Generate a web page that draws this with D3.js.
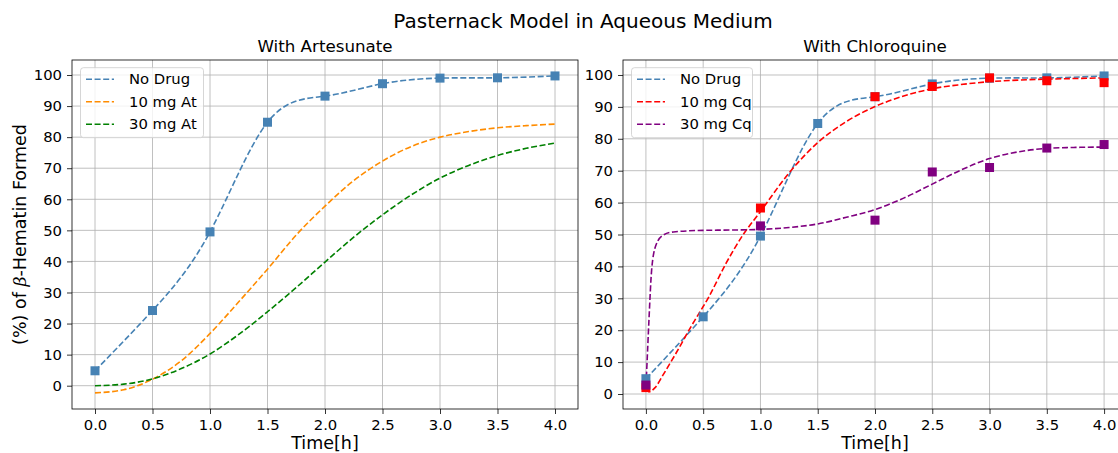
<!DOCTYPE html>
<html>
<head>
<meta charset="utf-8">
<script src="https://cdn.jsdelivr.net/npm/d3@7"></script>
<style>
  body { margin: 0; background: #fff; }
  svg { display: block; font-family: "DejaVu Sans", sans-serif; }
</style>
</head>
<body>
<svg id="chart" width="1118" height="453"></svg>
<script>
// measured time points (h)
var timePoints = [0, 0.5, 1.0, 1.5, 2.0, 2.5, 3.0, 3.5, 4.0];
var noDrug = [4.8, 24.2, 49.5, 84.8, 93.2, 97.2, 99.0, 99.1, 99.7];

// fitted curves, left panel
var fitX = [0, 0.25, 0.5, 0.75, 1.0, 1.25, 1.5, 1.75, 2.0, 2.25, 2.5, 2.75, 3.0, 3.25, 3.5, 3.75, 4.0];
var at10 = [-2.3, -1.3, 2.1, 8.0, 16.8, 27.0, 37.5, 48.5, 57.8, 66.0, 72.3, 77.0, 80.0, 81.8, 83.0, 83.7, 84.2];
var at30 = [0, 0.5, 2.2, 5.5, 10.2, 16.5, 23.8, 31.6, 39.8, 47.8, 55.0, 61.4, 66.8, 70.9, 74.1, 76.4, 78.1];

// right panel
var cqTime = [0, 1.0, 2.0, 2.5, 3.0, 3.5, 4.0];
var cq10 = [2.0, 58.3, 93.2, 96.4, 99.1, 98.2, 97.6];
var cq30 = [2.8, 52.7, 54.5, 69.6, 71.0, 77.1, 78.2];

var cq10FitX = [0, 0.03, 0.08, 0.15, 0.25, 0.4, 0.55, 0.7, 0.85, 1.0, 1.25, 1.5, 1.75, 2.0, 2.25, 2.5, 2.75, 3.0, 3.25, 3.5, 3.75, 4.0];
var cq10Fit = [1.8, 0.7, 2.0, 6.0, 12.0, 21.5, 30.5, 41.0, 50.0, 57.2, 69.3, 78.8, 85.4, 90.1, 93.4, 95.7, 97.0, 97.9, 98.4, 98.7, 98.9, 99.1];
var cq30FitX = [0, 0.005, 0.015, 0.027, 0.05, 0.088, 0.15, 0.24, 0.5, 0.75, 1.0, 1.25, 1.5, 1.75, 2.0, 2.25, 2.5, 2.75, 3.0, 3.25, 3.5, 3.75, 4.0];
var cq30Fit = [2.5, 6.0, 14.0, 23.5, 38.9, 46.7, 49.8, 50.8, 51.3, 51.4, 51.6, 52.2, 53.3, 55.4, 57.8, 61.4, 65.8, 70.2, 73.8, 75.9, 77.0, 77.3, 77.4];

var xTicks = [0, 0.5, 1.0, 1.5, 2.0, 2.5, 3.0, 3.5, 4.0];
var yTicks = [0, 10, 20, 30, 40, 50, 60, 70, 80, 90, 100];

var svg = d3.select("#chart");
var plotTop = 60, plotBottom = 409;
var dash = "6,2.6";

function drawPanel(opts) {
    var x = d3.scaleLinear().domain([-0.2, 4.2]).range([opts.left, opts.right]);
    var y = d3.scaleLinear().domain(opts.yDomain).range([plotBottom, plotTop]);
    var g = svg.append("g");

    // grid
    g.selectAll(".vg").data(xTicks).enter().append("line")
        .attr("x1", d => x(d)).attr("x2", d => x(d))
        .attr("y1", plotTop).attr("y2", plotBottom)
        .attr("stroke", "#b0b0b0").attr("stroke-width", 0.8);
    g.selectAll(".hg").data(yTicks).enter().append("line")
        .attr("x1", opts.left).attr("x2", opts.right)
        .attr("y1", d => y(d)).attr("y2", d => y(d))
        .attr("stroke", "#b0b0b0").attr("stroke-width", 0.8);

    // axes
    var xAxis = d3.axisBottom(x).tickValues(xTicks).tickFormat(d3.format(".1f")).tickSize(5).tickPadding(5);
    var gx = g.append("g").attr("transform", "translate(0," + plotBottom + ")").call(xAxis);
    var yAxis = d3.axisLeft(y).tickValues(yTicks).tickSize(5).tickPadding(5);
    var gy = g.append("g").attr("transform", "translate(" + opts.left + ",0)").call(yAxis);
    [gx, gy].forEach(function (a) {
        a.select(".domain").remove();
        a.selectAll("text").attr("font-size", 14.8).attr("fill", "#000").attr("font-family", "DejaVu Sans");
        a.selectAll("line").attr("stroke", "#000").attr("stroke-width", 0.8);
    });

    // lines
    var clip = "clip" + opts.id;
    svg.append("clipPath").attr("id", clip).append("rect")
        .attr("x", opts.left).attr("y", plotTop).attr("width", opts.right - opts.left).attr("height", plotBottom - plotTop);
    var plot = g.append("g").attr("clip-path", "url(#" + clip + ")");

    opts.series.forEach(function (s) {
        var pts = s.xs.map((v, i) => [v, s.ys[i]]);
        plot.append("path")
            .attr("d", d3.line().x(d => x(d[0])).y(d => y(d[1])).curve(s.curve)(pts))
            .attr("fill", "none").attr("stroke", s.color).attr("stroke-width", 1.6)
            .attr("stroke-dasharray", dash);
    });
    opts.markers.forEach(function (m) {
        plot.selectAll(null).data(m.xs.map((v, i) => [v, m.ys[i]])).enter().append("rect")
            .attr("x", d => x(d[0]) - 4.5).attr("y", d => y(d[1]) - 4.5)
            .attr("width", 9).attr("height", 9).attr("fill", m.color);
    });

    // frame
    g.append("rect").attr("x", opts.left).attr("y", plotTop)
        .attr("width", opts.right - opts.left).attr("height", plotBottom - plotTop)
        .attr("fill", "none").attr("stroke", "#000").attr("stroke-width", 0.8);

    // title and x label
    var cx = (opts.left + opts.right) / 2;
    g.append("text").attr("x", cx).attr("y", 52).attr("text-anchor", "middle")
        .attr("font-size", 16.7).text(opts.title);
    g.append("text").attr("x", cx).attr("y", 449).attr("text-anchor", "middle")
        .attr("font-size", 17.5).text("Time[h]");

    // legend
    var lx = opts.left + 8.5, ly = 67.7;
    var leg = g.append("g");
    leg.append("rect").attr("x", lx).attr("y", ly).attr("width", opts.legendWidth).attr("height", 70)
        .attr("rx", 3).attr("fill", "#fff").attr("fill-opacity", 0.8)
        .attr("stroke", "#cccccc").attr("stroke-width", 0.8);
    opts.series.forEach(function (s, i) {
        var yy = 79.3 + i * 22.5;
        leg.append("line").attr("x1", lx + 5.5).attr("x2", lx + 33.5).attr("y1", yy).attr("y2", yy)
            .attr("stroke", s.color).attr("stroke-width", 1.6).attr("stroke-dasharray", dash);
        leg.append("text").attr("x", lx + 48.5).attr("y", yy).attr("dy", "0.35em")
            .attr("font-size", 14.8).text(s.name);
    });
}

drawPanel({
    id: "L", left: 72, right: 578, yDomain: [-7.5, 104.83],
    title: "With Artesunate", legendWidth: 123,
    series: [
        { name: "No Drug", color: "steelblue", xs: timePoints, ys: noDrug, curve: d3.curveNatural },
        { name: "10 mg At", color: "darkorange", xs: fitX, ys: at10, curve: d3.curveMonotoneX },
        { name: "30 mg At", color: "green", xs: fitX, ys: at30, curve: d3.curveMonotoneX }
    ],
    markers: [{ color: "steelblue", xs: timePoints, ys: noDrug }]
});

drawPanel({
    id: "R", left: 623, right: 1127, yDomain: [-4.7, 104.7],
    title: "With Chloroquine", legendWidth: 121,
    series: [
        { name: "No Drug", color: "steelblue", xs: timePoints, ys: noDrug, curve: d3.curveNatural },
        { name: "10 mg Cq", color: "red", xs: cq10FitX, ys: cq10Fit, curve: d3.curveMonotoneX },
        { name: "30 mg Cq", color: "purple", xs: cq30FitX, ys: cq30Fit, curve: d3.curveMonotoneX }
    ],
    markers: [
        { color: "steelblue", xs: timePoints, ys: noDrug },
        { color: "red", xs: cqTime, ys: cq10 },
        { color: "purple", xs: cqTime, ys: cq30 }
    ]
});

// figure title
svg.append("text").attr("x", 583).attr("y", 28).attr("text-anchor", "middle")
    .attr("font-size", 20).text("Pasternack Model in Aqueous Medium");

// y label
var yl = svg.append("text").attr("transform", "translate(26,234.5) rotate(-90)")
    .attr("text-anchor", "middle").attr("font-size", 17.5);
yl.append("tspan").text("(%) of ");
yl.append("tspan").attr("font-style", "italic").attr("font-family", "DejaVu Serif").text("β");
yl.append("tspan").text("-Hematin Formed");
</script>
</body>
</html>
